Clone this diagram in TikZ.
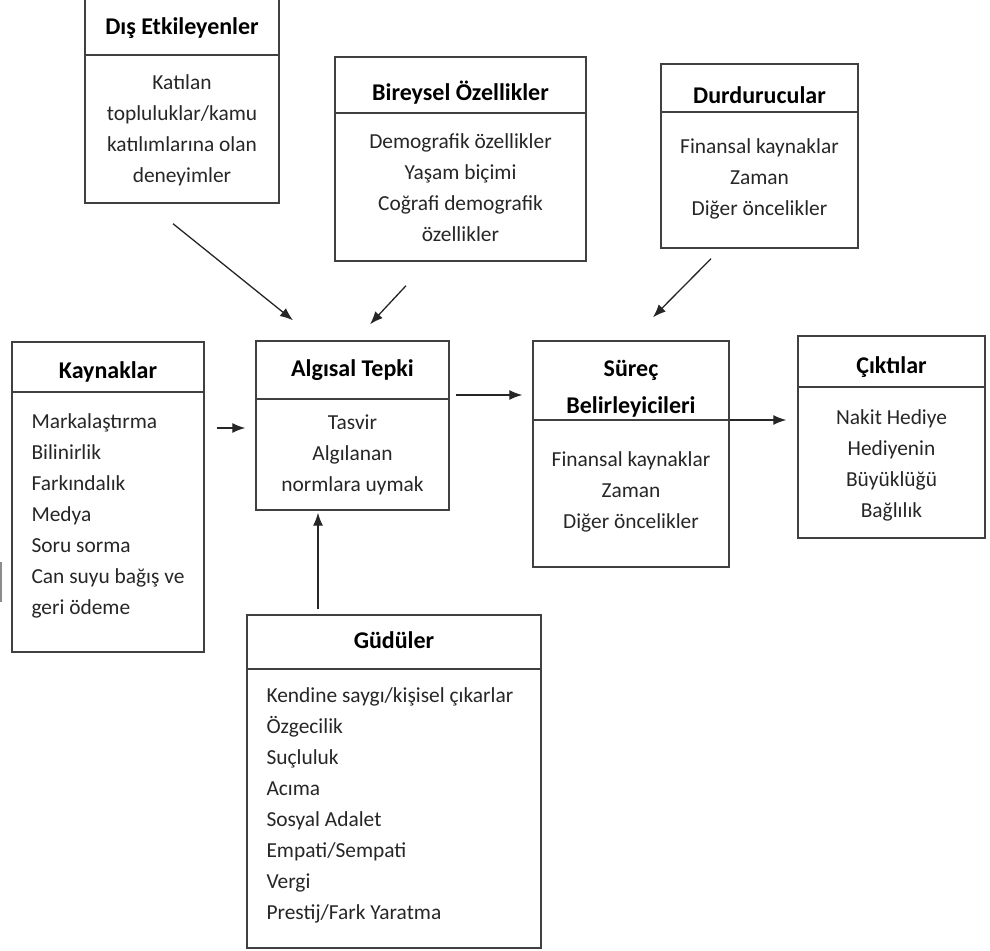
\documentclass[tikz,border=0pt]{standalone}
\usepackage{fontspec}
\setmainfont{Carlito}
\usetikzlibrary{arrows.meta}

\begin{document}
\begin{tikzpicture}[
    x=1pt, y=-1pt,
    box/.style={draw=black!75, line width=1.4pt, inner sep=0pt},
    sep/.style={draw=black!75, line width=1.4pt},
    head/.style={font=\fontsize{24}{37}\selectfont\bfseries, align=center, text=black},
    body/.style={font=\fontsize{21.4}{31}\selectfont, align=center, text=black!85},
    arrow/.style={-{Latex[length=13pt,width=10pt]}, line width=1.3pt, draw=black!85}
]
\useasboundingbox (0,0) rectangle (990,950);

% top row
\node[box, minimum width=194pt, minimum height=208pt] (dis) at (182,99) {};
\draw[sep] (dis.west |- 0,55) -- (dis.east |- 0,55);
\node[head] (disH) at (182,28) {Dış Etkileyenler};
\node[body] (disB) at (182,130) {Katılan\\topluluklar/kamu\\katılımlarına olan\\deneyimler};

\node[box, minimum width=251pt, minimum height=204pt] (bir) at (460.5,159) {};
\draw[sep] (bir.west |- 0,113) -- (bir.east |- 0,113);
\node[head] (birH) at (460.5,93) {Bireysel Özellikler};
\node[body] (birB) at (460.5,187.5) {Demografik özellikler\\Yaşam biçimi\\Coğrafi demografik\\özellikler};

\node[box, minimum width=197pt, minimum height=184pt] (dur) at (759.5,156) {};
\draw[sep] (dur.west |- 0,112) -- (dur.east |- 0,112);
\node[head] (durH) at (759.5,95) {Durdurucular};
\node[body] (durB) at (759.5,178.5) {Finansal kaynaklar\\Zaman\\Diğer öncelikler};

% middle row
\node[box, minimum width=192pt, minimum height=310pt] (kay) at (108,497) {};
\draw[sep] (kay.west |- 0,392) -- (kay.east |- 0,392);
\node[head] (kayH) at (108,372) {Kaynaklar};
\node[body, align=left, anchor=west] (kayB) at (28,516) {Markalaştırma\\Bilinirlik\\Farkındalık\\Medya\\Soru sorma\\Can suyu bağış ve\\geri ödeme};

\node[box, minimum width=193pt, minimum height=169pt] (alg) at (352.5,425.5) {};
\draw[sep] (alg.west |- 0,399) -- (alg.east |- 0,399);
\node[head] (algH) at (352.5,370) {Algısal Tepki};
\node[body] (algB) at (352.5,455) {Tasvir\\Algılanan\\normlara uymak};

\node[box, minimum width=196pt, minimum height=226pt] (sur) at (631,454) {};
\draw[sep] (sur.west |- 0,420) -- (sur.east |- 0,420);
\node[head] (surH) at (631,388.5) {Süreç\\Belirleyicileri};
\node[body] (surB) at (631,492) {Finansal kaynaklar\\Zaman\\Diğer öncelikler};

\node[box, minimum width=187pt, minimum height=202pt] (cik) at (891.5,437) {};
\draw[sep] (cik.west |- 0,387) -- (cik.east |- 0,387);
\node[head] (cikH) at (891.5,367) {Çıktılar};
\node[body] (cikB) at (891.5,465) {Nakit Hediye\\Hediyenin\\Büyüklüğü\\Bağlılık};

% bottom
\node[box, minimum width=294pt, minimum height=333pt] (gud) at (394,781.5) {};
\draw[sep] (gud.west |- 0,669) -- (gud.east |- 0,669);
\node[head] (gudH) at (394,640) {Güdüler};
\node[body, align=left, anchor=west] (gudB) at (263,805) {Kendine saygı/kişisel çıkarlar\\Özgecilik\\Suçluluk\\Acıma\\Sosyal Adalet\\Empati/Sempati\\Vergi\\Prestij/Fark Yaratma};

% arrows
\draw[arrow] ([xshift=-9pt,yshift=-20pt]dis.south) -- ([xshift=-59.5pt,yshift=20pt]alg.north);
\draw[arrow] ([xshift=-54.5pt,yshift=-24pt]bir.south) -- ([xshift=17.5pt,yshift=16pt]alg.north);
\draw[arrow] ([xshift=-48.5pt,yshift=-10pt]dur.south) -- ([xshift=22pt,yshift=23pt]sur.north);
\draw[arrow] ([xshift=12pt,yshift=69pt]kay.east) -- ([xshift=-10pt,yshift=-2.5pt]alg.west);
\draw[arrow] ([xshift=6pt,yshift=30.5pt]alg.east) -- ([xshift=-10pt,yshift=59pt]sur.west);
\draw[arrow] ([yshift=34pt]sur.east) -- ([xshift=-11pt,yshift=17pt]cik.west);
\draw[arrow] ([xshift=-76pt,yshift=5pt]gud.north) -- ([xshift=-34.5pt,yshift=-2pt]alg.south);

% stray edge at the left
\draw[sep, black!45] (1,562) -- (1,602);

\end{tikzpicture}
\end{document}
